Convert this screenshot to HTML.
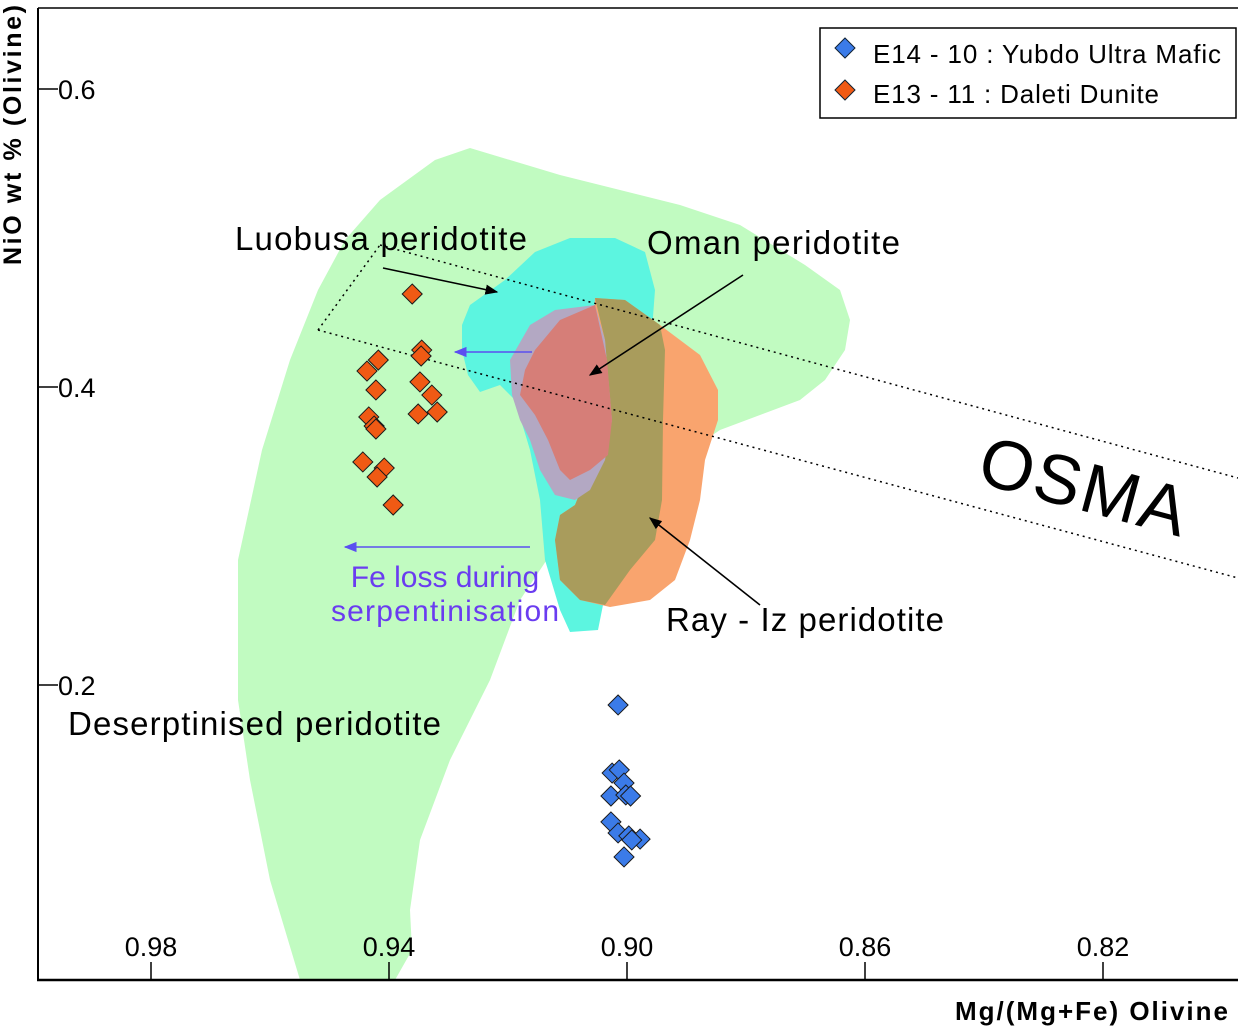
<!DOCTYPE html>
<html><head><meta charset="utf-8"><style>
html,body{margin:0;padding:0;background:#fff;}
svg{display:block;font-family:"Liberation Sans",Arial,sans-serif;}
</style></head><body>
<svg id="chart" width="1238" height="1035" viewBox="0 0 1238 1035">
<defs>
<marker id="ah" viewBox="0 0 10 10" refX="9" refY="5" markerWidth="8" markerHeight="8" orient="auto"><path d="M0,1 L10,5 L0,9 z" fill="#000"/></marker>
<marker id="ahb" viewBox="0 0 10 10" refX="9" refY="5" markerWidth="8" markerHeight="8" orient="auto"><path d="M0,1 L10,5 L0,9 z" fill="#5b4ff0"/></marker>
</defs>
<g>
<polygon fill="#c1fbc1" points="300,980 270,880 250,780 238,700 238,560 262,450 290,360 318,290 345,240 380,200 435,160 470,148 560,175 680,205 740,225 805,265 840,290 850,320 845,350 825,380 800,400 760,415 720,430 690,450 620,480 580,510 560,540 540,570 520,600 490,680 450,760 420,840 410,910 412,950 395,980"/>
<polygon fill="#5cf5e0" points="462,325 470,305 505,280 535,252 570,238 615,238 645,252 655,290 652,330 640,370 620,420 612,470 608,540 604,600 598,630 570,632 560,610 545,560 540,500 530,450 515,400 500,385 480,392 468,375 462,350"/>
<polygon fill="#f9a46e" points="595,298 625,300 660,325 700,355 718,390 718,420 705,460 700,500 690,540 675,580 650,600 610,607 580,600 560,580 555,540 560,515 575,505 585,480"/>
<polygon fill="#a99c5c" points="595,298 625,300 660,325 665,350 663,420 662,500 655,540 630,570 605,605 580,600 560,580 555,540 560,515 575,505 585,480 600,460 610,420 605,340"/>
<polygon fill="#b3a8c3" points="510,360 530,325 555,310 595,305 605,340 612,420 605,460 590,490 575,500 555,495 540,470 530,440 520,420 512,395"/>
<polygon fill="#d67e78" points="535,350 560,320 595,305 607,360 612,420 608,455 590,470 570,480 560,470 548,440 535,415 520,395 525,370"/>
</g>
<g stroke="#000" stroke-width="1.5" stroke-dasharray="2,4" fill="none">
<line x1="380" y1="245" x2="1238" y2="478"/>
<line x1="318" y1="330" x2="1238" y2="578"/>
<line x1="318" y1="330" x2="380" y2="245"/>
</g>
<text x="0" y="0" font-size="70" textLength="212" transform="translate(975,482) rotate(15)">OSMA</text>
<g stroke-width="1.6">
<line x1="383" y1="268" x2="497" y2="292" stroke="#000" marker-end="url(#ah)"/>
<line x1="743" y1="275" x2="590" y2="375" stroke="#000" marker-end="url(#ah)"/>
<line x1="760" y1="605" x2="650" y2="518" stroke="#000" marker-end="url(#ah)"/>
<line x1="530" y1="547" x2="345" y2="547" stroke="#5b4ff0" marker-end="url(#ahb)"/>
<line x1="532" y1="352" x2="455" y2="352" stroke="#5b4ff0" marker-end="url(#ahb)"/>
</g>
<g font-size="33">
<text x="235" y="250" textLength="292">Luobusa peridotite</text>
<text x="647" y="254" textLength="253">Oman peridotite</text>
<text x="666" y="631" textLength="278">Ray - Iz peridotite</text>
<text x="68" y="735" textLength="373">Deserptinised peridotite</text>
<text x="445" y="587" font-size="30" fill="#6a3cf0" text-anchor="middle">Fe loss during</text>
<text x="445" y="621" font-size="30" fill="#6a3cf0" text-anchor="middle" textLength="228">serpentinisation</text>
</g>
<g id="axes">
<line x1="38" y1="8" x2="38" y2="981" stroke="#000" stroke-width="2"/>
<line x1="38" y1="8" x2="1238" y2="8" stroke="#000" stroke-width="1.5"/>
<line x1="37" y1="980" x2="1238" y2="980" stroke="#000" stroke-width="2.5"/>
</g>
<g id="points"></g>
<g>
<rect x="820" y="28" width="416" height="90" fill="#fff" stroke="#000" stroke-width="1.5"/>
<polygon points="845,38 855,48 845,58 835,48" fill="#3b7be8" stroke="#123" stroke-width="1"/>
<text x="873" y="63" font-size="26" textLength="348">E14 - 10 : Yubdo Ultra Mafic</text>
<polygon points="845,80 855,90 845,100 835,90" fill="#f05a14" stroke="#123" stroke-width="1"/>
<text x="873" y="103" font-size="26" textLength="286">E13 - 11 : Daleti Dunite</text>
</g>
<text font-size="25" font-weight="bold" text-anchor="middle" textLength="260" transform="translate(21,135) rotate(-90)">NiO wt % (Olivine)</text>
<text x="955" y="1020" font-size="26" font-weight="bold" textLength="273">Mg/(Mg+Fe) Olivine</text>
</svg>
<script>
const xTicks = [0.98, 0.94, 0.90, 0.86, 0.82];
const yTicks = [0.6, 0.4, 0.2];
const yubdoX = [0.9015,0.9025,0.9013,0.9005,0.9027,0.9002,0.8994,0.9027,0.9015,0.8997,0.8978,0.8992,0.9005];
const yubdoY = [0.1866,0.1409,0.1430,0.1342,0.1255,0.1262,0.1255,0.1081,0.1007,0.0987,0.0966,0.0960,0.0846];
const daletiX = [0.9361,0.9345,0.9346,0.9418,0.9437,0.9422,0.9348,0.9328,0.9319,0.9351,0.9434,0.9425,0.9422,0.9444,0.9408,0.9420,0.9393];
const daletiY = [0.4624,0.4248,0.4208,0.4181,0.4107,0.3980,0.4034,0.3946,0.3832,0.3819,0.3799,0.3738,0.3718,0.3497,0.3456,0.3396,0.3208];

function sx(v){ return 151 + (0.98 - v) * 5950; }
function sy(v){ return 387 - (v - 0.4) * 1490; }
const NS = 'http://www.w3.org/2000/svg';
const axes = document.getElementById('axes');
xTicks.forEach(function(t){
  const l = document.createElementNS(NS,'line');
  l.setAttribute('x1', sx(t)); l.setAttribute('x2', sx(t));
  l.setAttribute('y1', 962); l.setAttribute('y2', 980);
  l.setAttribute('stroke','#000'); l.setAttribute('stroke-width','1.5');
  
  
  axes.appendChild(l);
  const tx = document.createElementNS(NS,'text');
  tx.setAttribute('x', sx(t)); tx.setAttribute('y', 956);
  tx.setAttribute('font-size','27'); tx.setAttribute('text-anchor','middle');
  tx.textContent = t.toFixed(2);
  
  
  axes.appendChild(tx);
});
yTicks.forEach(function(t){
  const l = document.createElementNS(NS,'line');
  l.setAttribute('x1', 38); l.setAttribute('x2', 58);
  l.setAttribute('y1', sy(t)); l.setAttribute('y2', sy(t));
  l.setAttribute('stroke','#000'); l.setAttribute('stroke-width','1.5');
  
  
  axes.appendChild(l);
  const tx = document.createElementNS(NS,'text');
  tx.setAttribute('x', 58); tx.setAttribute('y', sy(t) + 10);
  tx.setAttribute('font-size','27');
  tx.textContent = t.toFixed(1);
  
  
  axes.appendChild(tx);
});
const pts = document.getElementById('points');
function diamonds(xs, ys, color, name){
  xs.forEach(function(v,i){
    const cx = sx(v), cy = sy(ys[i]), r = 10;
    const p = document.createElementNS(NS,'polygon');
    p.setAttribute('points', cx+','+(cy-r)+' '+(cx+r)+','+cy+' '+cx+','+(cy+r)+' '+(cx-r)+','+cy);
    p.setAttribute('fill', color);
    p.setAttribute('stroke', '#1a1a1a');
    p.setAttribute('stroke-width', '1');
    
    
    pts.appendChild(p);
  });
}
diamonds(daletiX, daletiY, '#f05a14', 'daleti-point');
diamonds(yubdoX, yubdoY, '#3b7be8', 'yubdo-point');
</script>
</body></html>
